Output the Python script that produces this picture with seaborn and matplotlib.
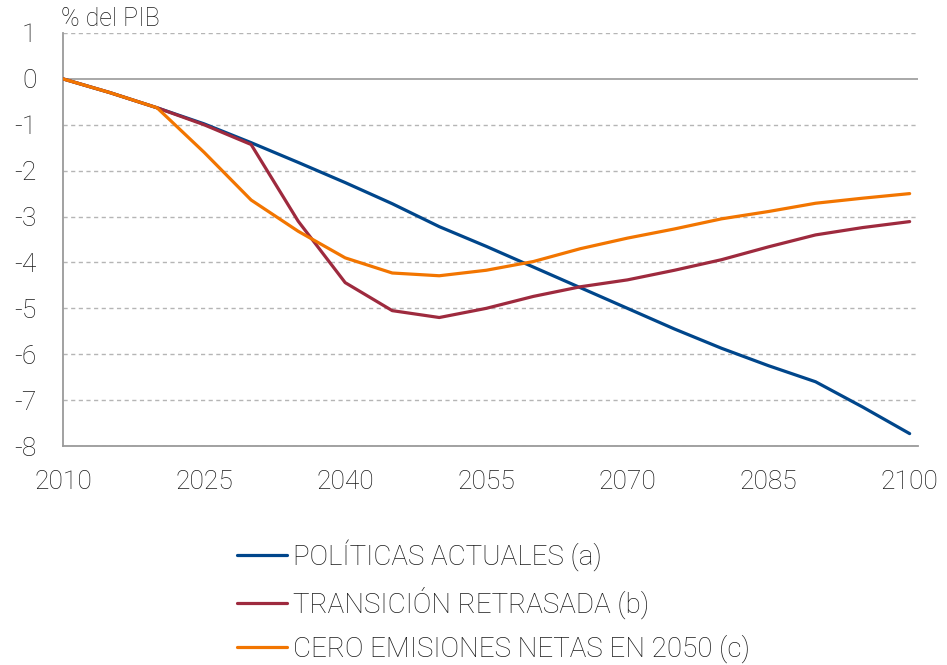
import matplotlib
matplotlib.use("Agg")
import matplotlib.pyplot as plt
from matplotlib.lines import Line2D
import seaborn as sns
import pandas as pd

years = list(range(2010, 2101, 5))
politicas_actuales = [0, -0.30, -0.63, -0.98, -1.39, -1.82, -2.26, -2.72, -3.22, -3.65,
                      -4.10, -4.55, -5.00, -5.45, -5.87, -6.25, -6.60, -7.15, -7.73]
transicion_retrasada = [0, -0.30, -0.63, -1.00, -1.43, -3.10, -4.44, -5.05, -5.20, -5.00,
                        -4.74, -4.53, -4.38, -4.17, -3.94, -3.66, -3.40, -3.24, -3.11]
cero_emisiones = [0, -0.30, -0.63, -1.60, -2.64, -3.32, -3.90, -4.23, -4.29, -4.17,
                  -3.98, -3.70, -3.47, -3.27, -3.05, -2.89, -2.71, -2.60, -2.50]
series_names = ["POLÍTICAS ACTUALES (a)", "TRANSICIÓN RETRASADA (b)",
                "CERO EMISIONES NETAS EN 2050 (c)"]
colors = ["#00468b", "#9e2a3e", "#f27500"]
x_ticks = [2010, 2025, 2040, 2055, 2070, 2085, 2100]
y_ticks = list(range(-8, 2))

df = pd.DataFrame({
    "year": years * 3,
    "value": politicas_actuales + transicion_retrasada + cero_emisiones,
    "serie": [series_names[0]] * len(years) + [series_names[1]] * len(years)
             + [series_names[2]] * len(years),
})

sns.set_theme(style="white")
plt.rcParams["font.family"] = ["Roboto", "DejaVu Sans"]
plt.rcParams["font.weight"] = "light"
plt.rcParams["axes.unicode_minus"] = False

fig = plt.figure(figsize=(9.47, 6.65), dpi=100)
ax = fig.add_axes([0.0665, 0.3293, 0.9025, 0.6211])

for yv in y_ticks:
    if yv == 0:
        ax.axhline(yv, color="#9a9a9a", lw=1.2, zorder=1)
    else:
        ax.axhline(yv, color="#b5b5b5", lw=1.0, ls=(0, (3, 2.5)), zorder=1)

sns.lineplot(data=df, x="year", y="value", hue="serie", palette=colors,
             hue_order=series_names, lw=2.3, ax=ax, legend=False, zorder=3)

ax.set_xlim(2010, 2100.85)
ax.set_ylim(-8, 1)
ax.set_xticks(x_ticks)
ax.set_yticks(y_ticks)
ax.set_xlabel("")
ax.set_ylabel("")
for s in ["top", "right"]:
    ax.spines[s].set_visible(False)
for s in ["left", "bottom"]:
    ax.spines[s].set_color("#9a9a9a")
    ax.spines[s].set_linewidth(1.3)
ax.tick_params(axis="x", direction="in", length=8, width=1.3, color="#9a9a9a",
               pad=17, labelsize=19, labelcolor="#1a1a1a")
ax.tick_params(axis="y", length=0, pad=19, labelsize=19, labelcolor="#1a1a1a")

fig.text(0.064, 0.972, "% del PIB", fontsize=18, color="#1a1a1a",
         ha="left", va="center")

handles = [Line2D([0], [0], color=c, lw=2.3) for c in colors]
fig.legend(handles, series_names, loc="center left", bbox_to_anchor=(0.25, 0.096),
           frameon=False, fontsize=20, handlelength=1.8, handletextpad=0.22,
           labelspacing=0.56, borderpad=0, borderaxespad=0, labelcolor="#1a1a1a")

fig.savefig("out.png", dpi=100)
